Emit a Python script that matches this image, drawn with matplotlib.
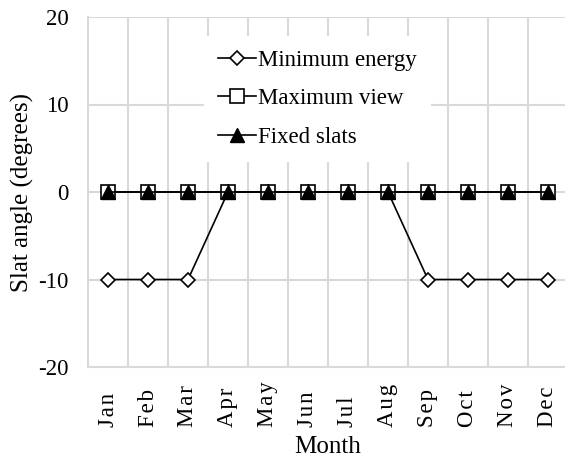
import numpy as np
import matplotlib.pyplot as plt

months = ['Jan', 'Feb', 'Mar', 'Apr', 'May', 'Jun',
          'Jul', 'Aug', 'Sep', 'Oct', 'Nov', 'Dec']
min_energy = [-10, -10, -10, 0, 0, 0, 0, 0, -10, -10, -10, -10]
max_view = [0, 0, 0, 0, 0, 0, 0, 0, 0, 0, 0, 0]
fixed_slats = [0, 0, 0, 0, 0, 0, 0, 0, 0, 0, 0, 0]

plt.rcParams['font.family'] = ['Liberation Serif', 'DejaVu Serif']
plt.rcParams['axes.unicode_minus'] = False
fs = 16.5

fig = plt.figure(figsize=(5.65, 4.59), dpi=100)
ax = fig.add_axes([88 / 565, 92 / 459, 480 / 565, 350 / 459])

x = np.arange(len(months))
ax.plot(x, min_energy, c='k', lw=1.2, marker='D', ms=7, mfc='white',
        mec='k', mew=1.2, label='Minimum energy', zorder=3)
ax.plot(x, max_view, c='k', lw=1.2, marker='s', ms=9.5, mfc='white',
        mec='k', mew=1.2, label='Maximum view', zorder=4)
ax.plot(x, fixed_slats, c='k', lw=1.2, marker='^', ms=10, mfc='k',
        mec='k', label='Fixed slats', zorder=5)

ax.set_xlim(-0.5, 11.5)
ax.set_ylim(-20, 20)
ax.set_yticks([-20, -10, 0, 10, 20])
ax.set_xticks(x)
# slightly spaced-out month names, bottom-aligned
ax.set_xticklabels(['\u200a'.join(m) for m in months], rotation=90,
                   fontsize=fs, va='bottom')
ax.tick_params(axis='y', labelsize=fs, length=0, pad=14)
ax.tick_params(axis='x', length=0, pad=43)

# vertical grid lines sit between the months
ax.set_xticks(np.arange(0.5, 11.5, 1), minor=True)
ax.tick_params(axis='x', which='minor', length=0)
ax.grid(True, which='minor', axis='x', color='#d9d9d9', lw=1.5)
ax.grid(True, which='major', axis='y', color='#d9d9d9', lw=1.5)
ax.set_axisbelow(True)
for side in ['top', 'right']:
    ax.spines[side].set_visible(False)
for side in ['left', 'bottom']:
    ax.spines[side].set_color('#d9d9d9')
    ax.spines[side].set_linewidth(1.5)

ax.set_xlabel('Month', fontsize=18, labelpad=7)
ax.set_ylabel('Slat angle (degrees)', fontsize=18, labelpad=3)

leg = ax.legend(loc='upper left', bbox_to_anchor=(204 / 565, 1 - 36 / 459),
                bbox_transform=fig.transFigure, fontsize=fs, frameon=True,
                fancybox=False, edgecolor='none', facecolor='white',
                framealpha=1, handlelength=1.66, handletextpad=0.1,
                labelspacing=0.77, borderpad=0.6, borderaxespad=0)

plt.savefig('out.png', dpi=100)
